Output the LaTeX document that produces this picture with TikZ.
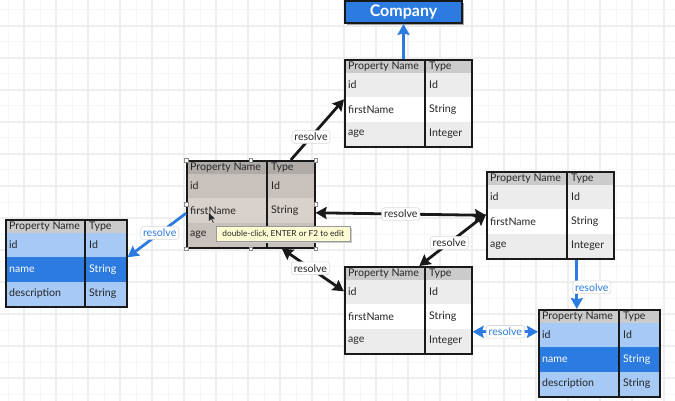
\documentclass[tikz,border=0pt]{standalone}
\usepackage{fontspec}
\setmainfont{Lato}
\usetikzlibrary{arrows.meta}
\definecolor{blueA}{HTML}{2B7BE0}
\definecolor{blueL}{HTML}{A6C9F5}
\definecolor{grayH}{HTML}{CBCBCB}
\definecolor{grayR}{HTML}{ECECEC}
\definecolor{brH}{HTML}{B1ABA7}
\definecolor{brR}{HTML}{C9C1BC}
\definecolor{brS}{HTML}{D7D0CB}
\definecolor{gridA}{HTML}{F6F6F6}
\definecolor{gridB}{HTML}{EEEEEE}
\definecolor{tipY}{HTML}{FCFBD2}
\tikzset{
  gray hdr/.style={fill=grayH}, gray r1/.style={fill=grayR}, gray r2/.style={fill=white}, gray r3/.style={fill=grayR}, gray t2/.style={text=black!85},
  brown hdr/.style={fill=brH}, brown r1/.style={fill=brR}, brown r2/.style={fill=brS}, brown r3/.style={fill=brR}, brown t2/.style={text=black!85},
  blue hdr/.style={fill=grayH}, blue r1/.style={fill=blueL}, blue r2/.style={fill=blueA}, blue r3/.style={fill=blueL}, blue t2/.style={text=white},
  celltext/.style={font=\fontsize{10.6}{12}\selectfont, inner sep=0pt, anchor=west, text=black!85},
  frame/.style={draw=black!90, line width=1.6pt, inner sep=0pt},
  coldiv/.style={draw=black!90, line width=1.3pt},
  lbl/.style={fill=white, draw=black!15, line width=0.6pt, rounded corners=2.5pt, font=\fontsize{10.6}{12}\selectfont, inner sep=2.4pt, text=black!85},
  bluelbl/.style={lbl, text=blueA},
  conn/.style={line width=2.8pt, draw=black!90},
  bconn/.style={line width=2.8pt, draw=blueA},
  handle/.style={draw=black!45, fill=white, line width=0.4pt, minimum size=3.5pt, inner sep=0pt},
  tooltip/.style={draw=black!40, fill=tipY, line width=0.5pt, font=\fontsize{8.3}{10}\selectfont, inner sep=3pt, minimum height=15pt, text=black!85},
  company/.style={draw=black!90, fill=blueA, line width=1.8pt, minimum width=117pt, minimum height=22pt, text=white, font=\fontsize{16}{18}\selectfont\bfseries},
  arr/.tip={Stealth[length=11pt,width=12pt,inset=1.5pt]}
}
\newcommand\dbtable[9]{%
  \fill[black!30] (#2+1.6,#3+1.6) rectangle ++(#4,87);
  \path[#6 hdr] (#2,#3) rectangle ++(#4,14);
  \path[#6 r1] (#2,#3+14) rectangle ++(#4,24.3);
  \path[#6 r2] (#2,#3+38.3) rectangle ++(#4,24.3);
  \path[#6 r3] (#2,#3+62.6) rectangle ++(#4,24.4);
  \draw[coldiv] (#2+#5,#3) -- ++(0,87);
  \node[frame, minimum width=#4pt, minimum height=87pt, anchor=north west] (#1) at (#2,#3) {};
  \node[celltext] (#1-h1) at (#2+4,#3+7.5) {Property Name};
  \node[celltext] (#1-h2) at (#2+#5+4,#3+7.5) {Type};
  \node[celltext] (#1-a1) at (#2+4,#3+26) {id};
  \node[celltext] (#1-b1) at (#2+#5+4,#3+26) {Id};
  \node[celltext, #6 t2] (#1-a2) at (#2+4,#3+50.5) {#7};
  \node[celltext, #6 t2] (#1-b2) at (#2+#5+4,#3+50.5) {String};
  \node[celltext] (#1-a3) at (#2+4,#3+75) {#8};
  \node[celltext] (#1-b3) at (#2+#5+4,#3+75) {#9};
}
\begin{document}
\begin{tikzpicture}[x=1pt,y=-1pt]
\useasboundingbox (0,0) rectangle (675,401);
\fill[white] (0,0) rectangle (675,401);
\foreach \x in {8,24,...,675} \draw[gridA, line width=1pt] (\x,0) -- (\x,401);
\foreach \y in {10,26,...,401} \draw[gridA, line width=1pt] (0,\y) -- (675,\y);
\foreach \x in {24,56,...,675} \draw[gridB, line width=1.2pt] (\x,0) -- (\x,401);
\foreach \y in {26,58,...,401} \draw[gridB, line width=1.2pt] (0,\y) -- (675,\y);

% Company
\fill[black!35] (347,3) rectangle (464,25);
\node[company] (company) at (403.5,12) {Company};

% tables
\dbtable{top}{344}{59}{127}{81}{gray}{firstName}{age}{Integer}
\dbtable{mid}{186}{160}{128}{81}{brown}{firstName}{age}{}
\dbtable{lft}{5}{219}{121}{80}{blue}{name}{description}{String}
\dbtable{rgt}{486}{171}{127}{81}{gray}{firstName}{age}{Integer}
\dbtable{bot}{344}{266}{127}{81}{gray}{firstName}{age}{Integer}
\dbtable{brt}{538}{309}{121}{81}{blue}{name}{description}{String}

% connectors
\draw[bconn, -arr] (company.south |- top.north) -- (company.south);
\draw[conn, -arr] ([xshift=40pt]mid.north) -- node[lbl, pos=0.38] (l1) {resolve} ([yshift=4pt]top.west);
\draw[conn, arr-arr] ([yshift=-8.5pt]mid.east) -- node[lbl, midway] (l2) {resolve} (rgt.west);
\draw[conn, arr-arr] ([xshift=11pt]bot.north) -- node[lbl, pos=0.45] (l3) {resolve} ([yshift=1pt]rgt.west);
\draw[conn, arr-arr] ([xshift=31pt]mid.south) -- node[lbl, pos=0.46] (l4) {resolve} ([yshift=19pt]bot.west);
\draw[bconn, -arr] ([yshift=-9pt]mid.west) -- node[bluelbl, pos=0.45] (l5) {resolve} ([yshift=6pt]lft.east);
\draw[bconn, -arr] ([xshift=26.5pt]rgt.south) -- node[bluelbl, pos=0.56, xshift=15pt] (l6) {resolve} ([xshift=-22.5pt]brt.north);
\draw[bconn, arr-arr] ([yshift=-21.5pt]bot.east) -- node[bluelbl, midway] (l7) {resolve} ([yshift=21.5pt]brt.west);

% selection handles
\foreach \a [count=\i] in {north west,north,north east,west,east,south west,south,south east}
  \node[handle] (hd\i) at (mid.\a) {};

% tooltip
\fill[black!20] (217.5,227.5) rectangle (351.5,242.5);
\node[tooltip, anchor=north west, minimum width=134pt] (tip) at (216,226) {double-click, ENTER or F2 to edit};

% mouse cursor
\filldraw[fill=black!85, draw=white, line width=0.4pt] (208.5,212) -- (208.5,222) -- (211,219.6) -- (212.8,223.5) -- (214.3,222.8) -- (212.6,219) -- (216,219) -- cycle;
\end{tikzpicture}
\end{document}
